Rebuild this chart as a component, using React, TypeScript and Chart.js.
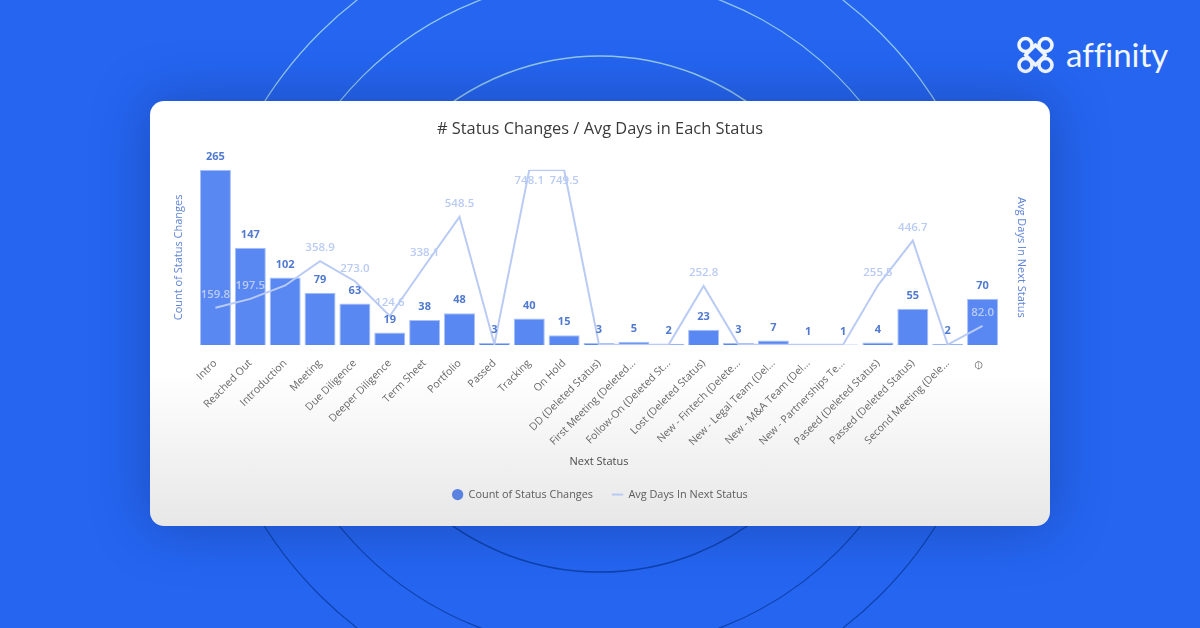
import React, { useEffect, useRef } from 'react';
import { Chart, registerables } from 'chart.js';

Chart.register(...registerables);

const statuses = [
    'Intro', 'Reached Out', 'Introduction', 'Meeting', 'Due Diligence', 'Deeper Diligence', 'Term Sheet', 'Portfolio',
    'Passed', 'Tracking', 'On Hold', 'DD (Deleted Status)', 'First Meeting (Deleted...', 'Follow-On (Deleted St...',
    'Lost (Deleted Status)', 'New - Fintech (Delete...', 'New - Legal Team (Del...', 'New - M&A Team (Del...',
    'New - Partnerships Te...', 'Paseed (Deleted Status)', 'Passed (Deleted Status)', 'Second Meeting (Dele...', '∅',
];
const statusChanges = [265, 147, 102, 79, 63, 19, 38, 48, 3, 40, 15, 3, 5, 2, 23, 3, 7, 1, 1, 4, 55, 2, 70];
const avgDays = [159.8, 197.5, 255, 358.9, 273.0, 124.6, 338.1, 548.5, 4, 748.1, 749.5, 2, 2, 2, 252.8, 2, 2, 2, 2, 255.5, 446.7, 2, 82.0];
const avgDaysLabels = [
    '159.8', '197.5', '', '358.9', '273.0', '124.6', '338.1', '548.5', '', '748.1', '749.5', '', '', '',
    '252.8', '', '', '', '', '255.5', '446.7', '', '82.0',
];

const font = '"Open Sans", sans-serif';
const barColor = '#5a88f2';
const lineColor = '#b9cbf4';
const axisTitleColor = '#5f84d6';
const ringRadii = [258, 336, 397];

// prints the count above each bar and the average above each line point
const valueLabels = {
    id: 'valueLabels',
    afterDatasetsDraw(chart: Chart) {
        const { ctx, chartArea } = chart;
        ctx.save();
        ctx.textAlign = 'center';
        ctx.textBaseline = 'middle';

        ctx.font = `700 11px ${font}`;
        ctx.fillStyle = '#5079cf';
        chart.getDatasetMeta(1).data.forEach((bar, i) => {
            ctx.fillText(String(statusChanges[i]), bar.x, bar.y - 13);
        });

        ctx.font = `600 11.5px ${font}`;
        ctx.fillStyle = lineColor;
        chart.getDatasetMeta(0).data.forEach((point, i) => {
            // the two highest points have no room above the plot
            const y = point.y - 13 < chartArea.top ? point.y + 11 : point.y - 13;
            ctx.fillText(avgDaysLabels[i], point.x, y);
        });
        ctx.restore();
    },
};

const StatusChart: React.FC = () => {
    const chartRef = useRef<HTMLCanvasElement | null>(null);

    useEffect(() => {
        const ctx = chartRef.current?.getContext('2d');

        if (!ctx) {
            return;
        }

        const myChart = new Chart(ctx, {
            type: 'bar',
            plugins: [valueLabels],
            data: {
                labels: statuses,
                datasets: [
                    {
                        type: 'line',
                        label: 'Avg Days In Next Status',
                        data: avgDays,
                        yAxisID: 'y1',
                        borderColor: lineColor,
                        backgroundColor: lineColor,
                        borderWidth: 2,
                        pointRadius: 0,
                        tension: 0,
                        order: 0,
                    },
                    {
                        type: 'bar',
                        label: 'Count of Status Changes',
                        data: statusChanges,
                        yAxisID: 'y',
                        backgroundColor: barColor,
                        borderColor: '#a9c1f5',
                        borderWidth: 1,
                        categoryPercentage: 0.89,
                        barPercentage: 1,
                        order: 1,
                    },
                ],
            },
            options: {
                responsive: false,
                animation: false,
                layout: { padding: { bottom: 16 } },
                plugins: {
                    tooltip: { enabled: false },
                    title: {
                        display: true,
                        text: '# Status Changes / Avg Days in Each Status',
                        color: '#3a3a3a',
                        font: { family: font, size: 16.4, weight: 'normal' },
                        padding: { top: 18, bottom: 31 },
                    },
                    legend: {
                        position: 'bottom',
                        labels: {
                            usePointStyle: true,
                            boxHeight: 8,
                            color: '#5c5c5c',
                            font: { family: font, size: 10.9 },
                            padding: 19,
                            generateLabels: (chart) => {
                                const items = Chart.defaults.plugins.legend.labels.generateLabels(chart);
                                return items.reverse().map((item) => ({
                                    ...item,
                                    pointStyle: item.datasetIndex === 1 ? 'circle' : 'line',
                                    lineWidth: item.datasetIndex === 1 ? 0 : 2,
                                    fillStyle: item.datasetIndex === 1 ? '#5a82e0' : lineColor,
                                }));
                            },
                        },
                    },
                },
                scales: {
                    x: {
                        grid: { display: false },
                        border: { display: false },
                        afterFit: (scale) => {
                            scale.height = 125;
                        },
                        ticks: {
                            autoSkip: false,
                            minRotation: 45,
                            maxRotation: 45,
                            padding: 4,
                            color: '#686868',
                            font: { family: font, size: 10.5 },
                        },
                        title: {
                            display: true,
                            text: 'Next Status',
                            color: '#4a4a4a',
                            font: { family: font, size: 11 },
                            padding: { top: 0, bottom: 2 },
                        },
                    },
                    y: {
                        min: 0,
                        max: 265,
                        grid: { display: false },
                        border: { display: false },
                        ticks: { display: false },
                        afterFit: (scale) => {
                            scale.width = 48;
                        },
                        title: {
                            display: true,
                            text: 'Count of Status Changes',
                            color: axisTitleColor,
                            font: { family: font, size: 11 },
                            padding: { top: 22, bottom: 0 },
                        },
                    },
                    y1: {
                        position: 'right',
                        min: 0,
                        max: 750,
                        grid: { display: false },
                        border: { display: false },
                        ticks: { display: false },
                        afterFit: (scale) => {
                            scale.width = 50;
                        },
                        title: {
                            display: true,
                            text: 'Avg Days In Next Status',
                            color: axisTitleColor,
                            font: { family: font, size: 11 },
                            padding: { top: 22, bottom: 0 },
                        },
                    },
                },
            },
        });

        return () => {
            myChart.destroy();
        };
    }, []);

    return <canvas ref={chartRef} width={900} height={425} style={{ display: 'block' }} />;
};

const Backdrop: React.FC = () => (
    <svg width={1200} height={628} style={{ position: 'absolute', left: 0, top: 0 }}>
        <defs>
            <linearGradient id="rings" gradientUnits="userSpaceOnUse" x1="0" y1="0" x2="0" y2="628">
                <stop offset="0.15" stopColor="#9fd4e8" />
                <stop offset="0.4" stopColor="#9fd4e8" />
                <stop offset="0.6" stopColor="#0a3fa8" />
                <stop offset="1" stopColor="#0a3fa8" />
            </linearGradient>
        </defs>
        {ringRadii.map((r, i) => (
            <circle key={r} cx={600} cy={314} r={r} fill="none" stroke="url(#rings)" strokeWidth={i === 0 ? 1.6 : 1.2} opacity={0.9} />
        ))}
        <g fill="none" stroke="#f2f6ff" strokeWidth={3.6}>
            <circle cx={1025.5} cy={45} r={6.5} />
            <circle cx={1045.5} cy={45} r={6.5} />
            <circle cx={1025.5} cy={65} r={6.5} />
            <circle cx={1045.5} cy={65} r={6.5} />
            <polygon points="1035.5,45 1045.5,55 1035.5,65 1025.5,55" strokeLinejoin="round" />
        </g>
        <text x={1066} y={67} fill="#f2f6ff" fontFamily="Lato, sans-serif" fontSize={33} style={{ fontVariantLigatures: 'none' }}>affinity</text>
    </svg>
);

const App: React.FC = () => {
    useEffect(() => {
        document.body.style.margin = '0';
    }, []);

    return (
        <div
            style={{
                position: 'fixed',
                left: 0,
                top: 0,
                width: 1200,
                height: 628,
                overflow: 'hidden',
                background: '#2565f0',
            }}
        >
            <Backdrop />
            <div
                style={{
                    position: 'absolute',
                    left: 150,
                    top: 101,
                    width: 900,
                    height: 425,
                    borderRadius: 14,
                    overflow: 'hidden',
                    background: 'linear-gradient(180deg, #ffffff 0%, #ffffff 64%, #e7e7e7 100%)',
                }}
            >
                <StatusChart />
            </div>
            <div
                style={{
                    position: 'absolute',
                    left: 150,
                    top: 101,
                    width: 900,
                    height: 425,
                    borderRadius: 14,
                    boxShadow: '0 0 55px rgba(15, 35, 90, 0.35)',
                    pointerEvents: 'none',
                }}
            />
        </div>
    );
};

export default App;
